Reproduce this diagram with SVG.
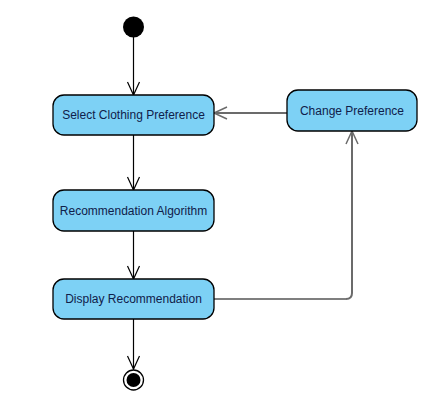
<svg xmlns="http://www.w3.org/2000/svg" width="442" height="412" viewBox="0 0 442 412">
<style>
.act rect{fill:#7dd1f5;stroke:#000;stroke-width:1.3}
.act text{font-family:"Liberation Sans",Arial,sans-serif;font-size:12px;fill:#10204a;text-anchor:middle;dominant-baseline:central}
.edge{fill:none;stroke-width:1.2}
.gray{stroke:#6b6b6b;stroke-width:2}
</style>
<defs>
<marker id="ob" viewBox="0 0 16 16" refX="14" refY="8" markerWidth="16" markerHeight="16" markerUnits="userSpaceOnUse" orient="auto"><path d="M1 2L14 8L1 14" fill="none" stroke="#000" stroke-width="1.2"/></marker>
<marker id="og" viewBox="0 0 16 16" refX="14" refY="8" markerWidth="16" markerHeight="16" markerUnits="userSpaceOnUse" orient="auto"><path d="M1 2L14 8L1 14" fill="none" stroke="#6b6b6b" stroke-width="1.5"/></marker>
</defs>
<rect width="442" height="412" fill="#fff"/>
<g id="connectors">
<path class="edge" stroke="#000" d="M133.5 37V95" marker-end="url(#ob)"/>
<path class="edge" stroke="#000" d="M133.5 135V190" marker-end="url(#ob)"/>
<path class="edge" stroke="#000" d="M133.5 231V279" marker-end="url(#ob)"/>
<path class="edge" stroke="#000" d="M133.5 319V369" marker-end="url(#ob)"/>
<path class="edge" stroke="#000" d="M214 299H346"/>
<path class="edge gray" d="M346 299Q352 299 352 293V131" marker-end="url(#og)"/>
<path class="edge gray" d="M287 113H214" marker-end="url(#og)"/>
</g>
<g id="start"><circle cx="133.5" cy="27" r="10.5" fill="#000"/></g>
<g id="select" class="act"><rect x="53" y="95" width="161" height="40" rx="11"/><text x="133.5" y="115">Select Clothing Preference</text></g>
<g id="algo" class="act"><rect x="53" y="190" width="161" height="41" rx="11"/><text x="133.5" y="211">Recommendation Algorithm</text></g>
<g id="display" class="act"><rect x="53" y="279" width="161" height="40" rx="11"/><text x="133.5" y="299">Display Recommendation</text></g>
<g id="change" class="act"><rect x="287" y="90" width="130" height="41" rx="11"/><text x="352" y="110.5">Change Preference</text></g>
<g id="end"><circle cx="133.5" cy="380" r="10" fill="#fff" stroke="#000" stroke-width="1.3"/><circle cx="133.5" cy="380" r="7" fill="#000"/></g>
</svg>
